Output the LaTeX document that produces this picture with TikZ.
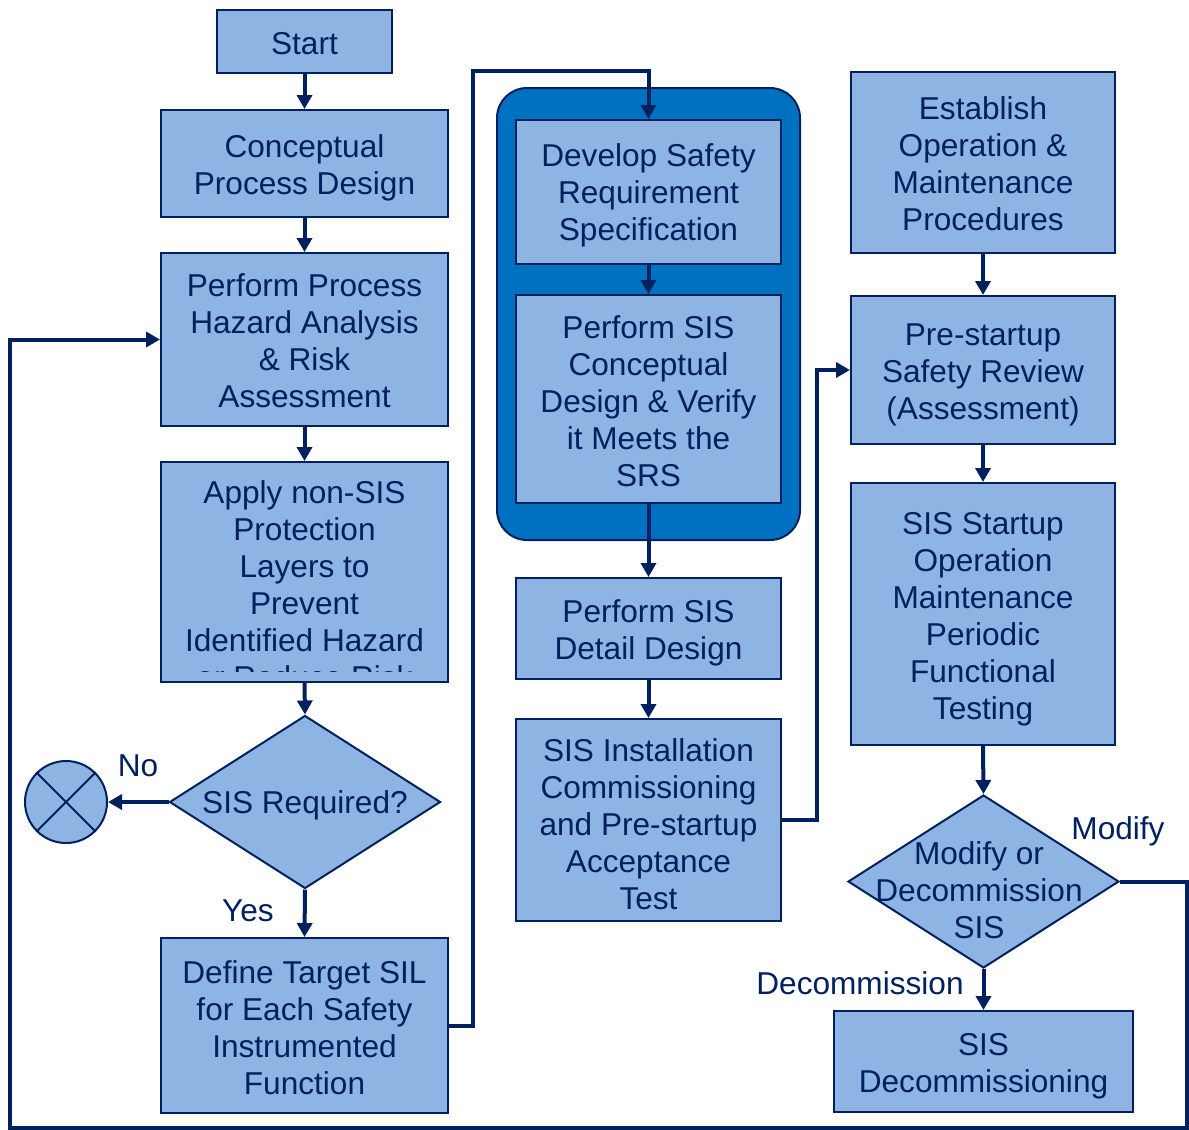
\documentclass[tikz,border=0pt]{standalone}
\usepackage{fontspec}
\setmainfont{Liberation Sans}
\usetikzlibrary{shapes.geometric,arrows.meta}
\definecolor{navy}{HTML}{002060}
\definecolor{lightfill}{HTML}{8EB4E3}
\definecolor{midblue}{HTML}{0070C0}
\begin{document}
\begin{tikzpicture}[x=0.5pt,y=-0.5pt,
  txt/.style={text=navy, align=center, font=\fontsize{15.8}{18.5}\selectfont, inner sep=0pt},
  box/.style={draw=navy, line width=1pt, fill=lightfill, inner sep=0pt},
  dia/.style={diamond, draw=navy, line width=1pt, fill=lightfill, inner sep=0pt, minimum width=135.5pt, minimum height=86.5pt},
  conn/.style={draw=navy, line width=2pt},
  arr/.style={conn, -{Triangle[length=7pt,width=7.5pt]}}]
\useasboundingbox (0,0) rectangle (1189,1130);
% group
\node[draw=navy, line width=1pt, fill=midblue, rounded corners=15pt, minimum width=151.5pt, minimum height=226pt] (group) at (648.5,314) {};
% left column
\node[box, minimum width=87.5pt, minimum height=31.5pt] (start) at (304.5,41.5) {};
\node[txt] (start-t) at ([yshift=-1pt]start.center) {Start};
\node[box, minimum width=143.5pt, minimum height=53.5pt] (concept) at (304.5,163.5) {};
\node[txt] (concept-t) at ([yshift=-2pt]concept.center) {Conceptual\\Process Design};
\node[box, minimum width=143.5pt, minimum height=86.5pt] (hazard) at (304.5,339.5) {};
\node[txt] (hazard-t) at ([yshift=-0.5pt]hazard.center) {Perform Process\\Hazard Analysis\\\& Risk\\Assessment};
\node[box, minimum width=143.5pt, minimum height=110pt] (apply) at (304.5,572) {};
\begin{scope}
  \clip (162,463) rectangle (447,671.5);
  \node[txt] (apply-t) at (304.5,585) {Apply non-SIS\\Protection\\Layers to\\Prevent\\Identified Hazard\\or Reduce Risk};
\end{scope}
\node[dia] (sisreq) at (305,802) {};
\node[txt] (sisreq-t) at (305,805) {SIS Required?};
\node[circle, draw=navy, line width=1pt, fill=lightfill, minimum size=41pt, inner sep=0pt] (stop) at (66,802) {};
\draw[navy, line width=1pt] (stop.45) -- (stop.225) (stop.135) -- (stop.315);
\node[box, minimum width=143.5pt, minimum height=87.5pt] (define) at (304.5,1025.5) {};
\node[txt] (define-t) at ([yshift=-1pt]define.center) {Define Target SIL\\for Each Safety\\Instrumented\\Function};
% middle column
\node[box, minimum width=132.5pt, minimum height=72pt] (develop) at (648.5,192) {};
\node[txt] (develop-t) at ([yshift=-1.5pt]develop.center) {Develop Safety\\Requirement\\Specification};
\node[box, minimum width=132.5pt, minimum height=104pt] (perfconc) at (648.5,399) {};
\node[txt] (perfconc-t) at ([yshift=-1pt]perfconc.center) {Perform SIS\\Conceptual\\Design \& Verify\\it Meets the\\SRS};
\node[box, minimum width=132.5pt, minimum height=50.5pt] (detail) at (648.5,628.5) {};
\node[txt] (detail-t) at ([yshift=-2pt]detail.center) {Perform SIS\\Detail Design};
\node[box, minimum width=132.5pt, minimum height=101pt] (install) at (648.5,820) {};
\node[txt] (install-t) at ([yshift=-2pt]install.center) {SIS Installation\\Commissioning\\and Pre-startup\\Acceptance\\Test};
% right column
\node[box, minimum width=132pt, minimum height=90.5pt] (establish) at (983,162.5) {};
\node[txt] (establish-t) at ([yshift=-0.5pt]establish.center) {Establish\\Operation \&\\Maintenance\\Procedures};
\node[box, minimum width=132pt, minimum height=74pt] (prestart) at (983,370) {};
\node[txt] (prestart-t) at ([yshift=-2.5pt]prestart.center) {Pre-startup\\Safety Review\\(Assessment)};
\node[box, minimum width=132pt, minimum height=131pt] (startup) at (983,614) {};
\node[txt] (startup-t) at ([yshift=-2.5pt]startup.center) {SIS Startup\\Operation\\Maintenance\\Periodic\\Functional\\Testing};
\node[dia] (modify) at (983.5,881.5) {};
\node[txt] (modify-t) at (979,890) {Modify or\\Decommission\\SIS};
\node[box, minimum width=149.5pt, minimum height=50.5pt] (decomm) at (983.5,1061.5) {};
\node[txt] (decomm-t) at ([yshift=-2.5pt]decomm.center) {SIS\\Decommissioning};
% labels
\node[txt] (lno) at (138,766) {No};
\node[txt] (lyes) at (248,911) {Yes};
\node[txt] (lmod) at (1118,831) {Modify};
\node[txt] (ldec) at (860,983) {Decommission};
% connectors
\draw[arr] (start) -- (concept);
\draw[arr] (concept) -- (hazard);
\draw[arr] (hazard) -- (apply);
\draw[arr] (apply.south) -- (sisreq.north);
\draw[arr] (sisreq.south) -- (define.north);
\draw[arr] (sisreq.west) -- (stop);
\coordinate (j1) at (473,1025.5);
\coordinate (j2) at (473,71);
\coordinate (j3) at (648.5,71);
\draw[arr] (define.east) -- (j1) -- (j2) -- (j3) -- (develop.north);
\draw[arr] (develop) -- (perfconc);
\draw[arr] (perfconc) -- (detail);
\draw[arr] (detail) -- (install);
\coordinate (k1) at (817,820);
\coordinate (k2) at (817,370);
\draw[arr] (install.east) -- (k1) -- (k2) -- (prestart.west);
\draw[arr] (establish) -- (prestart);
\draw[arr] (prestart) -- (startup);
\draw[arr] (startup.south) -- (modify.north);
\draw[arr] (modify.south) -- (decomm.north);
\coordinate (m1) at (1187,881.5);
\coordinate (m2) at (1187,1128);
\coordinate (m3) at (10,1128);
\coordinate (m4) at (10,339.5);
\draw[arr] (modify.east) -- (m1) -- (m2) -- (m3) -- (m4) -- (hazard.west);
\end{tikzpicture}
\end{document}
